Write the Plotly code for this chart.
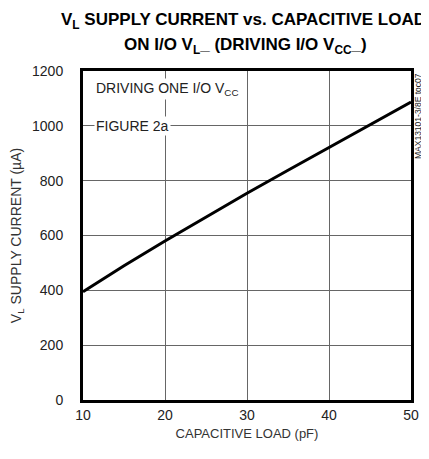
import plotly.graph_objects as go

cap_load_pf = [10, 15, 20, 25, 30, 35, 40, 45, 50]
vl_current_ua = [395, 490, 580, 668, 754, 838, 922, 1005, 1087]
x_ticks = [10, 20, 30, 40, 50]
y_ticks = [0, 200, 400, 600, 800, 1000, 1200]

FONT = "Liberation Sans, Arial, sans-serif"

fig = go.Figure()
fig.add_trace(go.Scatter(x=cap_load_pf, y=vl_current_ua, mode="lines",
                         line=dict(color="black", width=3), showlegend=False))

# page body has an 8px default margin, so the figure is 8px smaller each way
fig.update_layout(
    width=421, height=451,
    margin=dict(l=75, r=18, t=63, b=59, autoexpand=False),
    paper_bgcolor="white", plot_bgcolor="white",
    font=dict(family=FONT, size=14, color="#222"),
    xaxis=dict(range=[10, 50], tickvals=x_ticks, ticks="",
               showgrid=True, automargin=False,
               gridcolor="#666", gridwidth=1, zeroline=False,
               showline=True, linecolor="black", linewidth=3, mirror=True,
               title=dict(text="CAPACITIVE LOAD (pF)", standoff=8,
                          font=dict(family=FONT, size=13, color="#333")),
               tickfont=dict(family=FONT, size=14, color="#222")),
    yaxis=dict(range=[0, 1200], tickvals=y_ticks, ticks="outside", ticklen=14,
               tickcolor="white", showgrid=True, automargin=False,
               gridcolor="#666", gridwidth=1, zeroline=False,
               showline=True, linecolor="black", linewidth=3, mirror=True,
               title=dict(text="V<sub>L</sub> SUPPLY CURRENT (µA)", standoff=12,
                          font=dict(family=FONT, size=14, color="#333")),
               tickfont=dict(family=FONT, size=14, color="#222")),
)

fig.add_annotation(x=0.5, y=1.0, xref="paper", yref="paper", xanchor="center", yanchor="middle",
                   yshift=50, xshift=-4,
                   text="<b>V<sub>L</sub> SUPPLY CURRENT vs. CAPACITIVE LOAD</b>",
                   showarrow=False, align="center",
                   font=dict(family=FONT, size=17, color="black"))
fig.add_annotation(x=0.5, y=1.0, xref="paper", yref="paper", xanchor="center", yanchor="middle",
                   yshift=25, xshift=-2,
                   text="<b>ON I/O V<sub>L</sub>_ (DRIVING I/O V<sub>CC</sub>_)</b>",
                   showarrow=False, align="center",
                   font=dict(family=FONT, size=17, color="black"))
fig.add_annotation(x=0.035, y=0.945, xref="paper", yref="paper", xanchor="left", yanchor="middle",
                   text="DRIVING ONE I/O V<sub>CC</sub>", showarrow=False, bgcolor="white",
                   font=dict(family=FONT, size=14, color="#222"))
fig.add_annotation(x=0.035, y=0.833, xref="paper", yref="paper", xanchor="left", yanchor="middle",
                   text="FIGURE 2a", showarrow=False, bgcolor="white",
                   font=dict(family=FONT, size=14, color="#222"))
fig.add_annotation(x=1.0, y=1.0, xref="paper", yref="paper", xanchor="left", yanchor="top",
                   xshift=0, text="MAX13101-3/8E toc07", showarrow=False, textangle=-90,
                   font=dict(family=FONT, size=8.5, color="#222"))

fig.write_html("out.html")
